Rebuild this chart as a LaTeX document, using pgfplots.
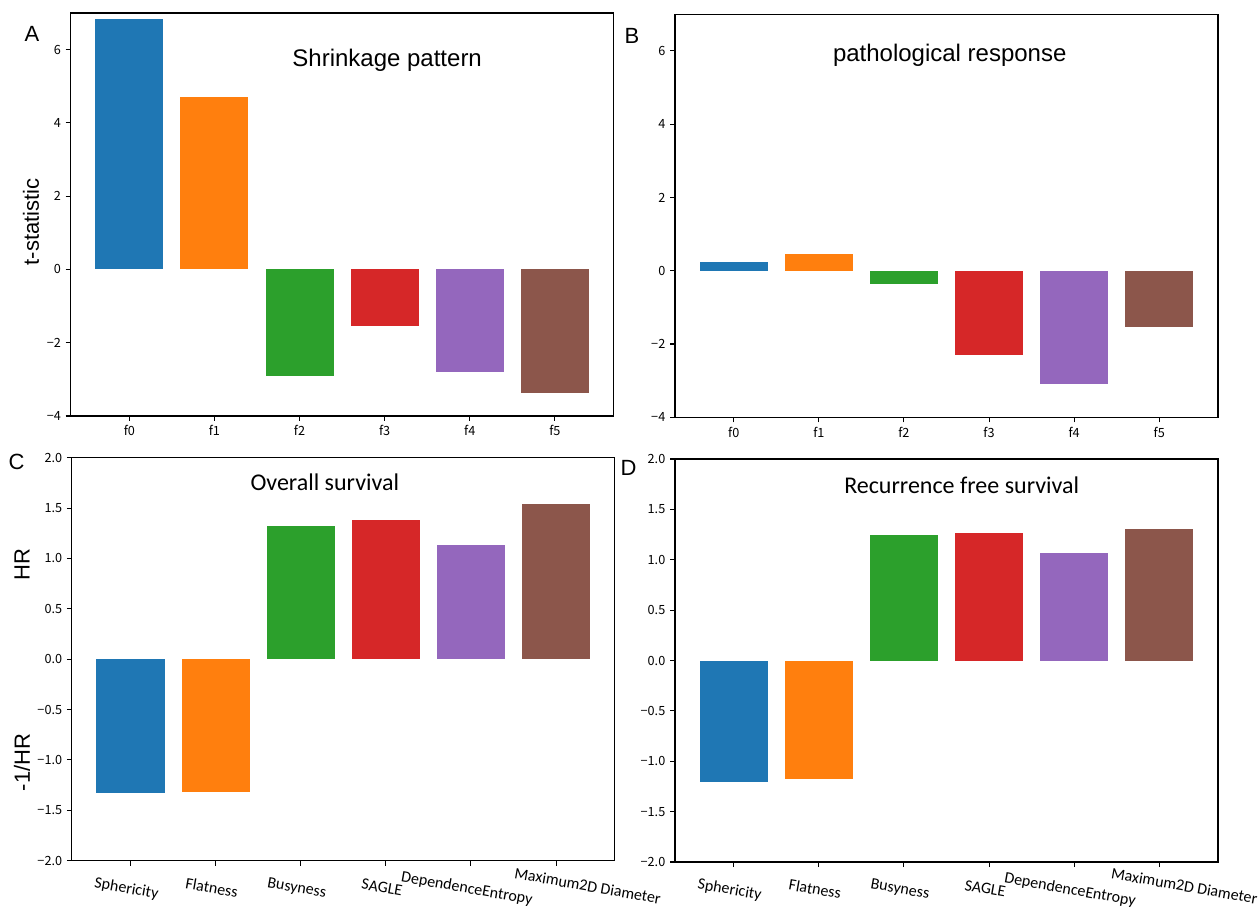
\documentclass[border=0pt]{standalone}
\usepackage{fontspec}
\setmainfont{Liberation Sans}
\newfontfamily\tickfont{Noto Sans CJK SC}
\newfontfamily\calfont{Carlito}
\usepackage{pgfplots}
\pgfplotsset{compat=1.18}
\definecolor{c0}{HTML}{1F77B4}
\definecolor{c1}{HTML}{FF7F0E}
\definecolor{c2}{HTML}{2CA02C}
\definecolor{c3}{HTML}{D62728}
\definecolor{c4}{HTML}{9467BD}
\definecolor{c5}{HTML}{8C564B}
\pgfplotsset{
  panel/.style={
    scale only axis, width=407.25pt, height=302.25pt, anchor=south west,
    axis line style={line width=0.8pt, black},
    tick style={line width=0.8pt, black},
    tick align=outside, major tick length=3.75pt,
    xtick pos=bottom, ytick pos=left,
    xmin=-0.69, xmax=5.69,
    tick label style={font=\tickfont\fontsize{9.5pt}{11pt}\selectfont},
    clip=false,
  },
  topp/.style={panel, ymin=-4, ymax=7, ytick={-4,-2,0,2,4,6},
    yticklabels={−4,−2,0,2,4,6}, xtick={0,1,2,3,4,5},
    xticklabels={f0,f1,f2,f3,f4,f5}},
  botp/.style={panel, ymin=-2, ymax=2, ytick={-2,-1.5,-1,-0.5,0,0.5,1,1.5,2},
    yticklabels={−2.0,−1.5,−1.0,−0.5,0.0,0.5,1.0,1.5,2.0},
    xtick={0,1,2,3,4},
    xticklabels={Sphericity,Flatness,Busyness,SAGLE,DependenceEntropy},
    xticklabel style={font=\calfont\fontsize{12pt}{14pt}\selectfont, rotate=-10, anchor=north, yshift=-9pt},
    extra x ticks={5}, extra x tick labels={Maximum2D Diameter},
    extra tick style={tick style={line width=0.8pt, black}, major tick length=3.75pt}},
  bb/.style={ybar, bar width=0.8, draw=none, fill=#1},
}
\newcommand\ttl{\fontsize{18pt}{20pt}\selectfont}
\newcommand\bigf{\fontsize{16.5pt}{18pt}\selectfont}
\begin{document}
\begin{tikzpicture}
\useasboundingbox (0pt,0pt) rectangle (943.5pt,681pt);
% A
\begin{axis}[topp, at={(52.95pt,369pt)}]
\addplot[bb=c0] coordinates {(0,6.83)};
\addplot[bb=c1] coordinates {(1,4.70)};
\addplot[bb=c2] coordinates {(2,-2.90)};
\addplot[bb=c3] coordinates {(3,-1.54)};
\addplot[bb=c4] coordinates {(4,-2.79)};
\addplot[bb=c5] coordinates {(5,-3.36)};
\node[font=\ttl] at (rel axis cs:0.583,0.883) {Shrinkage pattern};
\end{axis}
% B
\begin{axis}[topp, at={(506.25pt,368.03pt)}]
\addplot[bb=c0] coordinates {(0,0.23)};
\addplot[bb=c1] coordinates {(1,0.45)};
\addplot[bb=c2] coordinates {(2,-0.35)};
\addplot[bb=c3] coordinates {(3,-2.29)};
\addplot[bb=c4] coordinates {(4,-3.08)};
\addplot[bb=c5] coordinates {(5,-1.53)};
\node[font=\ttl] at (rel axis cs:0.506,0.898) {pathological response};
\end{axis}
% C
\begin{axis}[botp, at={(53.85pt,35.48pt)},
  extra x tick style={xticklabel style={xshift=26pt, yshift=6pt}}]
\addplot[bb=c0] coordinates {(0,-1.326)};
\addplot[bb=c1] coordinates {(1,-1.316)};
\addplot[bb=c2] coordinates {(2,1.319)};
\addplot[bb=c3] coordinates {(3,1.379)};
\addplot[bb=c4] coordinates {(4,1.131)};
\addplot[bb=c5] coordinates {(5,1.537)};
\node[font=\calfont\ttl] at (rel axis cs:0.466,0.938) {Overall survival};
\end{axis}
% D
\begin{axis}[botp, at={(506.25pt,34.5pt)},
  extra x tick style={xticklabel style={xshift=21pt, yshift=6pt}}]
\addplot[bb=c0] coordinates {(0,-1.207)};
\addplot[bb=c1] coordinates {(1,-1.177)};
\addplot[bb=c2] coordinates {(2,1.246)};
\addplot[bb=c3] coordinates {(3,1.269)};
\addplot[bb=c4] coordinates {(4,1.071)};
\addplot[bb=c5] coordinates {(5,1.309)};
\node[font=\calfont\ttl] at (rel axis cs:0.528,0.934) {Recurrence free survival};
\end{axis}
% panel letters and y labels
\node[font=\bigf] at (24pt,655.5pt) {A};
\node[font=\bigf] at (474pt,654.4pt) {B};
\node[font=\bigf] at (12.4pt,334.9pt) {C};
\node[font=\bigf] at (471.5pt,329.8pt) {D};
\node[font=\bigf, rotate=90] at (23.25pt,514.5pt) {t-statistic};
\node[font=\bigf, rotate=90] at (16.5pt,257.6pt) {HR};
\node[font=\bigf, rotate=90] at (16.5pt,109.1pt) {-1/HR};
\end{tikzpicture}
\end{document}
